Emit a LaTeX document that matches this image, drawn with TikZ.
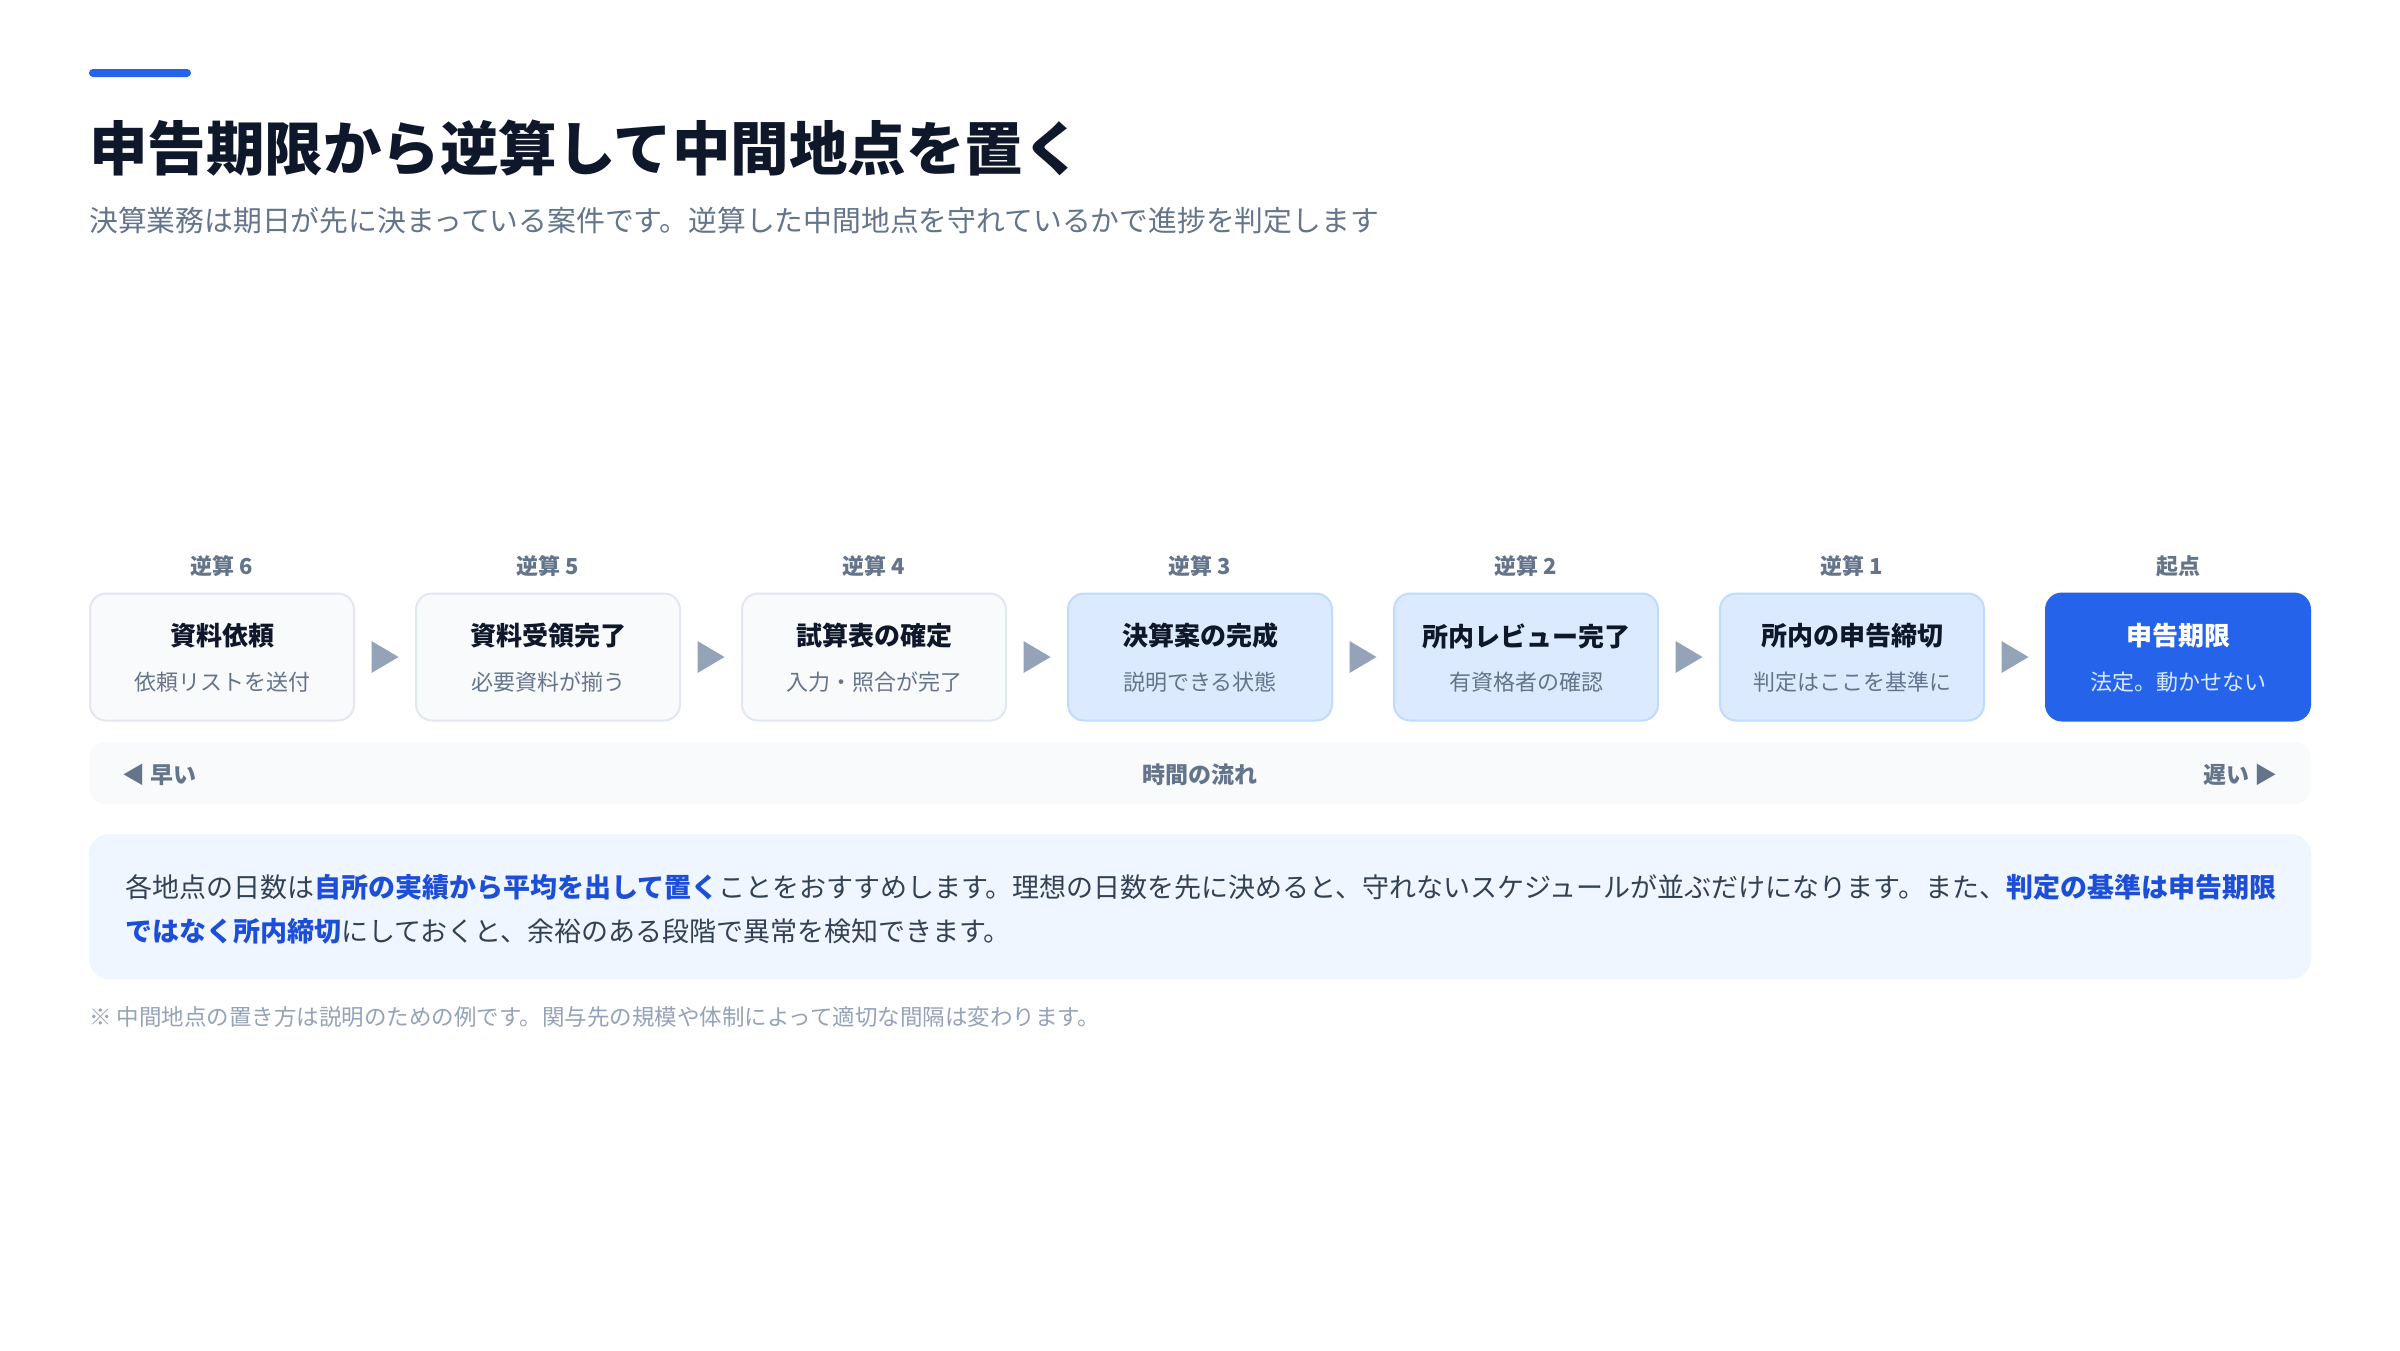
\documentclass[tikz,border=0pt]{standalone}
\usepackage{fontspec}
\setmainfont{Noto Sans CJK JP}
\usetikzlibrary{positioning,calc}

\definecolor{ink}{HTML}{0F172A}
\definecolor{slate}{HTML}{64748B}
\definecolor{body}{HTML}{334155}
\definecolor{faint}{HTML}{94A3B8}
\definecolor{brand}{HTML}{2563EB}
\definecolor{mark}{HTML}{1D4ED8}
\definecolor{paleFill}{HTML}{F8FAFC}
\definecolor{paleLine}{HTML}{E2E8F0}
\definecolor{blueFill}{HTML}{DBEAFE}
\definecolor{blueLine}{HTML}{BFDBFE}
\definecolor{noteFill}{HTML}{EFF6FF}

\begin{document}
\begin{tikzpicture}[x=1pt,y=-1pt,
    stagebox/.style={rounded corners=16pt,minimum width=264pt,minimum height=127pt,line width=2pt,inner sep=0},
    early/.style={fill=paleFill,draw=paleLine},
    near/.style={fill=blueFill,draw=blueLine},
    goal/.style={fill=brand,draw=brand},
    steplabel/.style={text=slate,font=\fontsize{22}{26}\selectfont\bfseries,inner sep=0},
    stagetitle/.style={font=\fontsize{26}{30}\selectfont\bfseries,inner sep=0},
    stagesub/.style={font=\fontsize{22}{26}\selectfont,inner sep=0},
    flowtext/.style={text=slate,font=\fontsize{23}{28}\selectfont\bfseries,inner sep=0}]

\useasboundingbox (0,0) rectangle (2400,1350);
\fill[white] (0,0) rectangle (2400,1350);

% heading
\fill[brand,rounded corners=4pt] (89,69) rectangle (191,77);
\node[anchor=west,inner sep=0,text=ink,font=\fontsize{58.5}{70}\selectfont\bfseries] (Title) at (89,148) {申告期限から逆算して中間地点を置く};
\node[anchor=west,inner sep=0,text=slate,font=\fontsize{28.8}{36}\selectfont] (Lead) at (89,221) {決算業務は期日が先に決まっている案件です。逆算した中間地点を守れているかで進捗を判定します};

% milestones
\foreach \lab/\ttl/\sub/\sty/\tc/\sc [count=\n] in {逆算 6/資料依頼/依頼リストを送付/early/ink/slate,逆算 5/資料受領完了/必要資料が揃う/early/ink/slate,逆算 4/試算表の確定/入力・照合が完了/early/ink/slate,逆算 3/決算案の完成/説明できる状態/near/ink/slate,逆算 2/所内レビュー完了/有資格者の確認/near/ink/slate,逆算 1/所内の申告締切/判定はここを基準に/near/ink/slate,起点/申告期限/法定。動かせない/goal/white/blueFill}
  {
  \node[stagebox,\sty] (B\n) at ({222+(\n-1)*326},657) {};
  \node[steplabel] (L\n) at ($(B\n.center)+(0,-91)$) {\lab};
  \node[stagetitle,text=\tc] (H\n) at ($(B\n.center)+(0,-21)$) {\ttl};
  \node[stagesub,text=\sc] (D\n) at ($(B\n.center)+(0,25)$) {\sub};
  }

\foreach \n in {1,...,6}
  {
  \pgfmathtruncatemacro\m{\n+1}
  \path (B\n.east) -- (B\m.west) coordinate[midway] (A\n);
  \fill[faint] ($(A\n)+(-13.5,-16)$) -- ($(A\n)+(13.5,0)$) -- ($(A\n)+(-13.5,16)$) -- cycle;
  }

% time axis
\node[fill=paleFill,rounded corners=16pt,minimum width=2222pt,minimum height=62pt,inner sep=0] (Axis) at (1200,773) {};
\node[flowtext,anchor=west] (Early) at (122,775) {◀ 早い};
\node[flowtext] (Flow) at (1200,775) {時間の流れ};
\node[flowtext,anchor=east] (Late) at (2278,775) {遅い ▶};

% note
\node[fill=noteFill,rounded corners=20pt,minimum width=2222pt,minimum height=145pt,inner sep=0] (Note) at (1200,906.5) {};
\node[anchor=west,inner sep=0,align=left,text=body,font=\fontsize{27}{44}\selectfont] (NoteText) at (125,909)
  {各地点の日数は\textcolor{mark}{\bfseries 自所の実績から平均を出して置く}ことをおすすめします。理想の日数を先に決めると、守れないスケジュールが並ぶだけになります。また、\textcolor{mark}{\bfseries 判定の基準は申告期限}\\
   \textcolor{mark}{\bfseries ではなく所内締切}にしておくと、余裕のある段階で異常を検知できます。};

\node[anchor=west,inner sep=0,text=faint,font=\fontsize{22.5}{28}\selectfont] (Foot) at (89,1017) {※ 中間地点の置き方は説明のための例です。関与先の規模や体制によって適切な間隔は変わります。};
\end{tikzpicture}
\end{document}
